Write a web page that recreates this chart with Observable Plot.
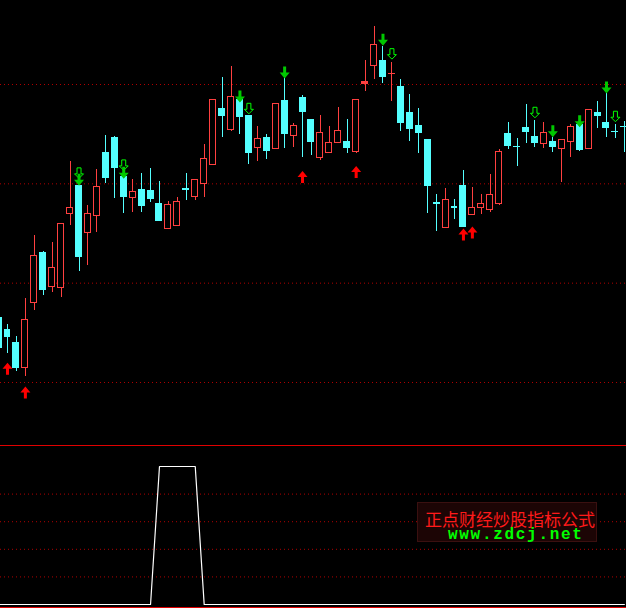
<!DOCTYPE html>
<html><head><meta charset="utf-8">
<script src="https://cdn.jsdelivr.net/npm/d3@7"></script>
<script src="https://cdn.jsdelivr.net/npm/@observablehq/plot@0.6"></script>
<style>
html,body{margin:0;padding:0;background:#000;}
#wrap{position:relative;width:626px;height:608px;background:#000;overflow:hidden;}
#top{height:445px;}
#sep{height:1px;background:#e00000;}
#bottom{height:161px;}
#sep2{height:1px;background:#e00000;}
svg{display:block;}
#wm{position:absolute;left:417px;top:502px;width:178px;height:38px;background:#1c0505;border:1px solid #3a1010;}
#wm .cn{position:absolute;left:7px;top:8px;height:15px;font-family:"Noto Sans CJK SC";font-size:17px;line-height:15px;color:#ff1a1a;white-space:nowrap;}
#wm .en{position:absolute;left:30px;top:26px;height:12px;font-family:"Liberation Mono",monospace;font-weight:bold;font-size:16px;line-height:12px;letter-spacing:1.7px;color:#00ff00;white-space:nowrap;}
</style></head><body>
<div id="wrap"><div id="top"></div><div id="sep"></div><div id="bottom"></div><div id="sep2"></div>
<div id="wm"><div class="cn">正点财经炒股指标公式</div><div class="en">www.zdcj.net</div></div></div>
<script>
// Daily candles (index 0..70), price units
const opens  = [10.65,10.53,10.40,10.15,10.80,11.30,10.96,10.95,11.70,11.98,11.50,11.68,12.31,12.46,12.07,11.86,11.94,11.93,11.80,11.55,11.58,11.944,11.87,12.00,12.19,12.75,12.54,12.84,12.68,12.36,12.46,12.35,12.83,12.48,12.86,12.64,12.26,12.31,12.41,12.42,12.32,13.01,13.19,13.24,13.106,12.97,12.71,12.58,12.44,11.804,11.56,11.764,11.98,11.69,11.76,11.74,11.80,12.50,12.374,12.56,12.47,12.40,12.42,12.35,12.42,12.59,12.35,12.71,12.61,12.524,12.574];
const highs  = [10.70,10.58,10.46,10.85,11.48,11.32,11.41,11.60,12.22,11.98,11.78,12.14,12.49,12.48,12.16,12.04,12.10,12.15,12.02,11.82,11.86,12.10,12.04,12.40,12.84,13.07,13.18,12.84,12.68,12.58,12.50,12.80,13.07,12.61,12.89,12.64,12.69,12.58,12.77,12.65,12.84,13.24,13.58,13.38,13.22,13.05,12.90,12.76,12.45,11.89,11.95,11.84,12.13,11.96,11.89,12.09,12.35,12.62,12.46,12.80,12.64,12.62,12.47,12.44,12.60,12.59,12.74,12.83,12.94,12.60,12.63];
const lows   = [10.32,10.29,10.11,10.06,10.72,10.88,10.91,10.86,11.58,11.12,11.18,11.51,12.00,11.85,11.70,11.71,11.71,11.81,11.62,11.55,11.57,11.83,11.83,11.86,12.19,12.47,12.53,12.50,12.19,12.22,12.24,12.35,12.36,12.37,12.27,12.29,12.23,12.31,12.41,12.31,12.31,12.93,13.05,13.01,12.83,12.53,12.43,12.31,11.70,11.52,11.56,11.64,11.57,11.68,11.69,11.71,11.78,12.35,12.17,12.41,12.37,12.36,12.32,12.01,12.27,12.33,12.35,12.56,12.47,12.46,12.32];
const closes = [10.35,10.46,10.15,10.63,11.27,10.93,11.15,11.60,11.76,11.26,11.70,11.97,12.06,12.16,11.87,11.92,11.78,11.85,11.63,11.79,11.82,11.94,12.04,12.25,12.84,12.68,12.87,12.67,12.31,12.45,12.33,12.80,12.50,12.58,12.72,12.42,12.51,12.41,12.53,12.36,12.84,13.03,13.40,13.08,13.11,12.61,12.55,12.51,11.98,11.80,11.84,11.76,11.57,11.76,11.80,11.89,12.32,12.38,12.37,12.52,12.41,12.51,12.37,12.44,12.57,12.34,12.74,12.68,12.56,12.52,12.57];

// Signals: candle index and arrow tip price
const buyIdx   = [1, 3, 34, 40, 52, 53];
const buyTip   = [10.20, 9.96, 12.13, 12.18, 11.55, 11.57];
const sellIdx  = [9, 14, 27, 32, 43, 62, 65, 68];
const sellTip  = [11.98, 12.05, 12.82, 13.06, 13.39, 12.47, 12.57, 12.91];
const warnIdx  = [9, 14, 28, 44, 60, 69];
const warnTip  = [12.05, 12.13, 12.70, 13.25, 12.66, 12.62];

// Grid levels
const priceGrid = [10, 11, 12, 13];
const indGrid = [20, 40, 60, 80];

// Lower indicator (0..100)
const indicator = [0,0,0,0,0,0,0,0,0,0,0,0,0,0,0,0,0,0,100,100,100,100,100,0,0,0,0,0,0,0,0,0,0,0,0,0,0,0,0,0,0,0,0,0,0,0,0,0,0,0,0,0,0,0,0,0,0,0,0,0,0,0,0,0,0,0,0,0,0,0,0];

const RED = "#ff4040", CYAN = "#54ffff", GRID = "#b00000";
const candles = opens.map((o, i) => ({i, o, h: highs[i], l: lows[i], c: closes[i]}));
const up = candles.filter(d => d.c > d.o);
const upHollow = up.filter(d => d.c - d.o > 0.025);
const down = candles.filter(d => d.c <= d.o);
const half = 0.39;
const buys = buyIdx.map((i, k) => ({i, p: buyTip[k]}));
const sells = sellIdx.map((i, k) => ({i, p: sellTip[k]}));
const warns = warnIdx.map((i, k) => ({i, p: warnTip[k]}));
const ind = indicator.map((v, i) => ({i, v}));

const arrowUp = {draw(c) {c.moveTo(0,0);c.lineTo(5,6);c.lineTo(1.5,6);c.lineTo(1.5,12);c.lineTo(-1.5,12);c.lineTo(-1.5,6);c.lineTo(-5,6);c.closePath();}};
const arrowDown = {draw(c) {c.moveTo(0,0);c.lineTo(5,-6);c.lineTo(1.5,-6);c.lineTo(1.5,-12);c.lineTo(-1.5,-12);c.lineTo(-1.5,-6);c.lineTo(-5,-6);c.closePath();}};
const arrowHollow = {draw(c) {c.moveTo(0,-0.5);c.lineTo(4.5,-5);c.lineTo(2,-5);c.lineTo(2,-11);c.lineTo(-2,-11);c.lineTo(-2,-5);c.lineTo(-4.5,-5);c.closePath();}};

const xDomain = [0.217, 70.239];
const bx1 = d => d.i - half, bx2 = d => d.i + half;

const topPlot = Plot.plot({
  width: 626, height: 445, margin: 0,
  style: {background: "#000", overflow: "hidden"},
  x: {domain: xDomain, axis: null},
  y: {domain: [9.3657, 13.8457], axis: null},
  marks: [
    Plot.ruleY(priceGrid, {stroke: GRID, strokeDasharray: "1,3"}),
    Plot.ruleX(up, {x: "i", y1: "l", y2: "h", stroke: RED, shapeRendering: "crispEdges"}),
    Plot.ruleX(down, {x: "i", y1: "l", y2: "h", stroke: CYAN, shapeRendering: "crispEdges"}),
    Plot.rect(up, {x1: bx1, x2: bx2, y1: "o", y2: "c", fill: RED, insetTop: -0.5, insetBottom: -0.5, shapeRendering: "crispEdges"}),
    Plot.rect(upHollow, {x1: bx1, x2: bx2, y1: "o", y2: "c", fill: "#000", insetLeft: 1, insetRight: 1, insetTop: 0.5, insetBottom: 0.5, shapeRendering: "crispEdges"}),
    Plot.rect(down, {x1: bx1, x2: bx2, y1: "o", y2: "c", fill: CYAN, insetTop: -0.5, insetBottom: -0.5, shapeRendering: "crispEdges"}),
    Plot.dot(warns, {x: "i", y: "p", symbol: arrowHollow, fill: "none", stroke: "#00ff00", strokeWidth: 1}),
    Plot.dot(sells, {x: "i", y: "p", symbol: arrowDown, fill: "#00c800", stroke: "none"}),
    Plot.dot(buys, {x: "i", y: "p", symbol: arrowUp, fill: "#ff0000", stroke: "none"})
  ]
});
document.getElementById("top").appendChild(topPlot);

const bottomPlot = Plot.plot({
  width: 626, height: 161, margin: 0,
  style: {background: "#000", overflow: "hidden"},
  x: {domain: xDomain, axis: null},
  y: {domain: [-2.17, 114.5], axis: null},
  marks: [
    Plot.ruleY(indGrid, {stroke: GRID, strokeDasharray: "1,3"}),
    Plot.line(ind, {x: "i", y: "v", stroke: "#ffffff", strokeWidth: 1.2})
  ]
});
document.getElementById("bottom").appendChild(bottomPlot);
</script>
</body></html>
